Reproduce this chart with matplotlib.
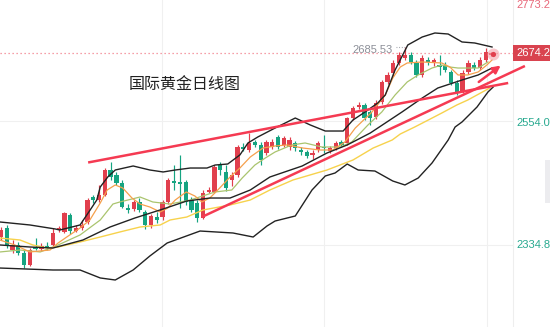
import matplotlib
matplotlib.use("Agg")
import matplotlib.pyplot as plt
from matplotlib.patches import Rectangle

plt.rcParams['font.family'] = ['Liberation Sans', 'DejaVu Sans']

# ---------------- data ----------------
opens = [2348.5, 2364.4, 2325.5, 2334.4, 2320.2, 2299.0, 2330.8, 2327.3, 2332.6, 2334.4,
         2360.9, 2357.4, 2387.5, 2359.1, 2364.4, 2375.1, 2419.3, 2414.0, 2422.9, 2467.1,
         2458.3, 2444.1, 2399.8, 2398.1, 2410.5, 2392.8, 2369.8, 2383.9, 2383.9, 2410.5,
         2447.6, 2445.9, 2445.9, 2414.0, 2408.7, 2382.1, 2428.2, 2428.2, 2475.9, 2463.6,
         2449.4, 2458.3, 2507.8, 2502.5, 2516.7, 2511.4, 2497.2, 2507.8, 2525.5, 2511.4,
         2507.8, 2514.9, 2502.5, 2499.0, 2493.7, 2502.5, 2507.8, 2500.7, 2506.0, 2516.7,
         2514.9, 2559.1, 2578.6, 2582.2, 2569.8, 2560.9, 2587.5, 2622.9, 2638.8, 2656.5,
         2665.3, 2670.7, 2656.5, 2635.3, 2661.8, 2658.3, 2652.9, 2652.9, 2640.6, 2621.1,
         2605.2, 2640.6, 2652.9, 2647.6, 2661.8, 2670.7]
highs = [2366.2, 2369.8, 2343.2, 2339.7, 2325.5, 2329.0, 2346.7, 2337.9, 2339.7, 2364.4,
         2368.0, 2392.8, 2391.0, 2369.8, 2378.6, 2417.5, 2422.9, 2440.6, 2470.6, 2481.3,
         2463.6, 2449.4, 2406.9, 2414.0, 2417.5, 2396.3, 2389.2, 2392.8, 2414.0, 2452.9,
         2475.9, 2493.7, 2449.4, 2419.3, 2414.0, 2431.7, 2437.0, 2475.9, 2481.3, 2475.9,
         2463.6, 2511.4, 2514.9, 2532.6, 2520.2, 2516.7, 2520.2, 2522.0, 2529.1, 2527.3,
         2525.5, 2518.4, 2507.8, 2502.5, 2502.5, 2518.4, 2529.1, 2509.6, 2518.4, 2520.2,
         2560.9, 2580.4, 2587.5, 2585.7, 2573.3, 2591.0, 2626.4, 2640.6, 2661.8, 2676.0,
         2685.5, 2676.0, 2661.8, 2670.7, 2667.1, 2665.3, 2670.7, 2658.3, 2644.1, 2626.4,
         2644.1, 2661.8, 2658.3, 2667.1, 2683.0, 2676.0]
lows = [2343.2, 2329.0, 2320.2, 2316.7, 2293.6, 2297.2, 2325.5, 2323.7, 2325.5, 2332.6,
        2357.4, 2355.6, 2353.8, 2357.4, 2360.9, 2371.5, 2408.7, 2410.5, 2421.1, 2449.4,
        2440.6, 2399.8, 2391.0, 2394.5, 2392.8, 2362.7, 2364.4, 2373.3, 2378.6, 2406.9,
        2431.7, 2399.8, 2405.2, 2392.8, 2375.1, 2380.4, 2426.4, 2426.4, 2458.3, 2429.9,
        2438.8, 2454.7, 2500.7, 2499.0, 2507.8, 2475.9, 2493.7, 2504.3, 2504.3, 2507.8,
        2502.5, 2500.7, 2493.7, 2488.3, 2486.6, 2499.0, 2497.2, 2497.2, 2502.5, 2507.8,
        2511.4, 2555.6, 2575.1, 2555.6, 2546.8, 2557.4, 2583.9, 2619.3, 2633.5, 2652.9,
        2661.8, 2654.7, 2631.7, 2631.7, 2652.9, 2651.2, 2635.3, 2640.6, 2617.6, 2599.9,
        2603.4, 2637.0, 2644.1, 2644.1, 2658.3, 2668.9]
closes = [2360.9, 2334.4, 2334.4, 2320.2, 2299.0, 2325.5, 2327.3, 2332.6, 2329.0, 2355.6,
          2364.4, 2391.0, 2359.1, 2364.4, 2369.8, 2414.0, 2414.0, 2422.9, 2467.1, 2454.7,
          2444.1, 2401.6, 2396.3, 2410.5, 2396.3, 2369.8, 2385.7, 2378.6, 2410.5, 2449.4,
          2444.1, 2442.3, 2410.5, 2396.3, 2382.1, 2426.4, 2431.7, 2472.4, 2467.1, 2435.2,
          2458.3, 2507.8, 2504.3, 2514.9, 2511.4, 2484.8, 2516.7, 2516.7, 2507.8, 2523.7,
          2520.2, 2506.0, 2499.0, 2491.9, 2497.2, 2514.9, 2506.0, 2506.0, 2514.9, 2511.4,
          2559.1, 2576.8, 2582.2, 2559.1, 2559.1, 2585.7, 2622.9, 2635.3, 2656.5, 2670.7,
          2670.7, 2658.3, 2635.3, 2665.3, 2658.3, 2661.8, 2649.4, 2644.1, 2621.1, 2605.2,
          2638.8, 2656.5, 2647.6, 2661.8, 2676.0, 2674.2]

# indicator lines: (bar position, price) samples
bb_up_x = [-0.2, 5.0, 9.4, 10.2, 13.7, 15.1, 16.6, 17.2, 18.5, 19.8, 22.9, 25.8, 28.1, 30.2,
           32.8, 35.7, 37.1, 39.3, 41.4, 42.8, 44.5, 47.5, 51.0, 53.6, 56.2, 59.3, 61.0, 63.1,
           65.3, 66.6, 68.3, 70.5, 73.0, 75.2, 77.5, 79.9, 82.1, 85.1]
bb_up_y = [2375.1, 2369.8, 2362.7, 2360.9, 2369.8, 2391.0, 2414.0, 2437.0, 2454.7, 2467.1,
           2474.2, 2467.1, 2463.6, 2467.1, 2470.6, 2470.6, 2475.9, 2477.7, 2493.7, 2514.9,
           2525.5, 2541.4, 2559.1, 2546.8, 2536.1, 2536.1, 2555.6, 2569.8, 2585.7, 2599.9,
           2644.1, 2688.4, 2702.5, 2709.6, 2707.8, 2693.7, 2691.9, 2684.8]
bb_mid_x = [-0.2, 5.0, 9.0, 14.2, 18.9, 23.2, 28.1, 32.2, 36.2, 39.7, 43.2, 46.6, 52.2, 56.5,
            60.0, 64.0, 67.4, 69.5, 73.0, 75.7, 79.9, 82.7, 85.1]
bb_mid_y = [2334.4, 2330.8, 2329.0, 2343.2, 2366.2, 2382.1, 2398.1, 2412.2, 2417.5, 2417.5,
            2431.7, 2454.7, 2474.2, 2497.2, 2511.4, 2532.6, 2555.6, 2569.8, 2594.5, 2612.2,
            2626.4, 2635.3, 2647.6]
bb_low_x = [-0.2, 9.0, 13.7, 17.2, 19.8, 22.9, 25.8, 28.8, 34.5, 40.2, 43.7, 46.1, 47.5, 51.0,
            53.9, 56.2, 57.9, 60.0, 61.9, 64.8, 67.9, 70.0, 72.3, 74.7, 77.5, 78.7, 79.9, 82.5,
            84.4, 85.3]
bb_low_y = [2293.6, 2290.1, 2290.1, 2276.0, 2272.4, 2290.1, 2314.9, 2337.9, 2359.1, 2355.6,
            2348.5, 2368.0, 2376.8, 2385.7, 2431.7, 2456.5, 2461.8, 2477.7, 2467.1, 2465.3,
            2447.6, 2440.6, 2452.9, 2479.5, 2520.2, 2543.2, 2552.1, 2578.6, 2605.2, 2614.0]
ma5_x = [-0.2, 2.4, 5.0, 8.5, 9.9, 11.4, 13.7, 15.4, 17.2, 18.4, 19.8, 21.1, 22.7, 24.1, 25.8,
         27.6, 28.9, 30.2, 32.1, 33.6, 34.8, 36.2, 37.9, 39.7, 41.4, 43.2, 45.4, 47.5, 49.6,
         52.3, 55.3, 57.5, 59.6, 61.4, 64.3, 66.6, 67.9, 69.2, 70.4, 73.0, 76.4, 77.8, 79.2,
         80.9, 82.7, 84.2, 85.1]
ma5_y = [2343.2, 2334.4, 2322.0, 2325.5, 2337.9, 2348.5, 2364.4, 2378.6, 2408.7, 2431.7,
         2440.6, 2435.2, 2417.5, 2406.9, 2401.6, 2392.8, 2399.8, 2414.0, 2428.2, 2421.1,
         2410.5, 2417.5, 2435.2, 2454.7, 2470.6, 2490.1, 2506.0, 2509.6, 2511.4, 2506.0,
         2502.5, 2502.5, 2516.7, 2541.4, 2569.8, 2599.9, 2629.9, 2649.4, 2656.5, 2658.3,
         2656.5, 2649.4, 2635.3, 2635.3, 2640.6, 2652.9, 2661.8]
ma10_x = [-0.2, 3.3, 6.8, 9.9, 13.7, 17.2, 19.4, 20.6, 24.1, 26.3, 29.3, 32.8, 37.1, 40.0,
          41.8, 44.0, 45.8, 47.5, 50.4, 52.7, 55.6, 58.8, 60.8, 63.6, 66.0, 68.3, 70.4, 72.3,
          74.7, 76.4, 77.8, 79.2, 82.7, 84.4]
ma10_y = [2322.0, 2325.5, 2322.0, 2334.4, 2352.1, 2378.6, 2406.9, 2410.5, 2419.3, 2410.5,
          2406.9, 2414.0, 2428.2, 2431.7, 2452.9, 2475.9, 2488.3, 2499.0, 2511.4, 2514.9,
          2507.8, 2507.8, 2516.7, 2546.8, 2569.8, 2599.9, 2622.9, 2635.3, 2647.6, 2652.9,
          2649.4, 2647.6, 2647.6, 2658.3]
ma_long_x = [-0.2, 3.3, 5.5, 8.0, 9.9, 13.7, 17.2, 20.6, 24.1, 27.6, 29.3, 32.2, 35.0, 39.7,
             43.2, 46.6, 50.6, 56.5, 61.0, 64.5, 67.8, 69.2, 71.7, 74.4, 76.4, 79.0, 80.9,
             82.5, 84.7]
ma_long_y = [2346.7, 2343.2, 2334.4, 2329.0, 2330.8, 2339.7, 2348.5, 2357.4, 2366.2, 2369.8,
             2378.6, 2383.9, 2396.3, 2405.2, 2414.0, 2431.7, 2449.4, 2467.1, 2484.8, 2506.0,
             2520.2, 2530.8, 2543.2, 2557.4, 2568.0, 2582.2, 2591.0, 2599.9, 2612.2]

# hand-drawn trend lines and arrow (bar position, price)
trend1_x = [15.1, 87.9]
trend1_y = [2480.4, 2621.1]
trend2_x = [34.8, 90.8]
trend2_y = [2383.9, 2651.2]
arrow_x = [82.8, 86.6]
arrow_y = [2622.9, 2652.0]

tick_labels = ['2773.20', '2554.03', '2334.80']
tick_prices = [2773.20, 2554.03, 2334.80]
last_price = 2674.20
high_label = '2685.53'
title = '国际黄金日线图'

# ---------------- figure ----------------
W, H = 550, 327
fig = plt.figure(figsize=(W / 100, H / 100), dpi=100)
ax = fig.add_axes([0, 0, 1, 1])
x_left, x_right = -0.1733, 95.147
y_top = 2768.0
y_bottom = y_top - 1.77 * H
ax.set_xlim(x_left, x_right)
ax.set_ylim(y_bottom, y_top)
ax.axis('off')

UP = '#e13f4d'
DOWN = '#15a481'

# grid
for gx in [27.9, 56.0, 84.2]:
    ax.axvline(gx, color='#f0f0f0', lw=0.8, zorder=0)
ax.axvline(88.75, color='#eeeeee', lw=0.8, zorder=0)
for gp in tick_prices[1:]:
    ax.axhline(gp, xmax=(513 / 550), color='#f0f0f0', lw=0.8, zorder=0)

# candles
n = len(opens)
xs = list(range(n))
for i in xs:
    o, h, l, c = opens[i], highs[i], lows[i], closes[i]
    col = UP if c >= o else DOWN
    ax.vlines(i, l, h, color=col, lw=0.85, zorder=2)
    body = max(abs(c - o), 1.8)
    ax.bar(i, body, bottom=min(o, c), width=0.74, color=col, linewidth=0, zorder=2)

# indicator lines
ax.plot(ma_long_x, ma_long_y, color='#f7d24c', lw=1.0, zorder=3)
ax.plot(ma10_x, ma10_y, color='#aac46e', lw=0.9, zorder=3)
ax.plot(ma5_x, ma5_y, color='#f5a04c', lw=0.9, zorder=3)
ax.plot(bb_up_x, bb_up_y, color='#222222', lw=1.0, zorder=3)
ax.plot(bb_mid_x, bb_mid_y, color='#222222', lw=1.0, zorder=3)
ax.plot(bb_low_x, bb_low_y, color='#222222', lw=1.0, zorder=3)

# trend lines
RED = '#f53a52'
ax.plot(trend1_x, trend1_y, color=RED, lw=1.8, zorder=4, solid_capstyle='butt')
ax.plot(trend2_x, trend2_y, color=RED, lw=1.8, zorder=4, solid_capstyle='butt')
ax.annotate('', xy=(arrow_x[1], arrow_y[1]), xytext=(arrow_x[0], arrow_y[0]),
            arrowprops=dict(arrowstyle='-|>', color=RED, lw=1.8,
                            mutation_scale=11, shrinkA=0, shrinkB=0), zorder=4)

# last price dotted line
ax.plot([x_left, 88.75], [last_price, last_price], color='#f2808d', lw=0.9,
        linestyle=(0, (1, 2.2)), zorder=1)

# glowing last point
ax.scatter([n - 0.7], [last_price - 1.5], s=75, color='#f6a3ab', alpha=0.6,
           linewidths=0, zorder=5)
ax.scatter([n - 0.7], [last_price - 1.5], s=14, color=UP, linewidths=0, zorder=6)

# high label
ax.text(67.9, 2680.0, high_label, ha='right', va='center', fontsize=8,
        color='#8c8f98', zorder=5)
ax.plot([68.4, 70.0], [2685.5, 2685.5], color='#9a9da6', lw=0.8,
        linestyle=(0, (0.8, 1.6)), zorder=5)

# title
ax.text(129 / W, 1 - 85 / H, title, transform=ax.transAxes, ha='left', va='center',
        fontsize=11.5, color='#222222', family=['Noto Sans CJK SC', 'DejaVu Sans'])

# price axis labels
ax.text(516 / W, 1 - 5 / H, tick_labels[0], transform=ax.transAxes, ha='left',
        va='center', fontsize=8, color='#e8687a')
ax.text(516 / W, 1 - 123 / H, tick_labels[1], transform=ax.transAxes, ha='left',
        va='center', fontsize=8, color='#27a98f')
ax.text(516 / W, 1 - 245 / H, tick_labels[2], transform=ax.transAxes, ha='left',
        va='center', fontsize=8, color='#27a98f')
ax.add_patch(Rectangle((513 / W, 1 - 61 / H), 40 / W, 16 / H, transform=ax.transAxes,
                       facecolor='#d9434f', edgecolor='none', zorder=6))
ax.text(516 / W, 1 - 53 / H, f'{last_price:.2f}', transform=ax.transAxes, ha='left',
        va='center', fontsize=8, color='white', zorder=7)
ax.add_patch(Rectangle((545 / W, 1 - 203 / H), 6 / W, 43 / H, transform=ax.transAxes,
                       facecolor='#ececef', edgecolor='none', zorder=1))

fig.savefig('out.png', dpi=100)
